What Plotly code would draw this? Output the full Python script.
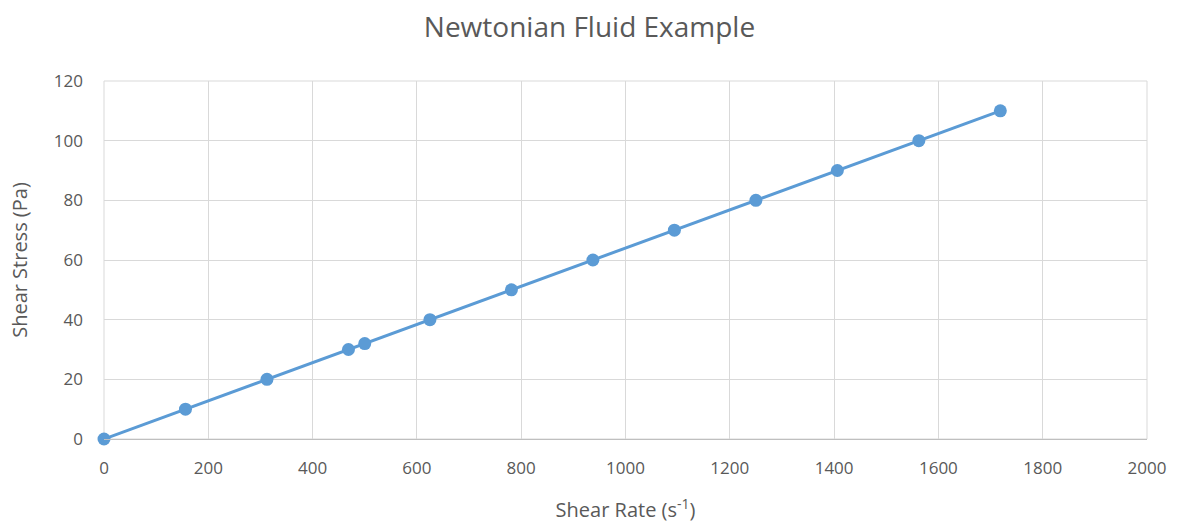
import plotly.graph_objects as go

shear_rate = [0, 156.25, 312.5, 468.75, 500, 625, 781.25, 937.5, 1093.75, 1250, 1406.25, 1562.5, 1718.75]
shear_stress = [0, 10, 20, 30, 32, 40, 50, 60, 70, 80, 90, 100, 110]

FONT = "Open Sans"
TXT = "#595959"

fig = go.Figure()
fig.add_trace(go.Scatter(
    x=shear_rate, y=shear_stress, mode="lines+markers",
    line=dict(color="#5B9BD5", width=3),
    marker=dict(color="#5B9BD5", size=13),
    cliponaxis=False,
    showlegend=False,
))

fig.update_layout(
    width=1179, height=523,
    margin=dict(l=104, r=32, t=81, b=84),
    paper_bgcolor="white", plot_bgcolor="white",
    font=dict(family=FONT, color=TXT),
    title=dict(text="Newtonian Fluid Example", x=0.5, xanchor="center",
               y=1 - 27 / 523, yanchor="middle", font=dict(size=28, color=TXT, family=FONT)),
    xaxis=dict(range=[0, 2000], dtick=200, showgrid=True, gridcolor="#d9d9d9", gridwidth=1,
               zeroline=False, showline=True, linecolor="#bfbfbf", linewidth=1, mirror=False,
               automargin=False,
               ticks="", tickfont=dict(size=17, color=TXT), ticklabelstandoff=14,
               title=dict(text="Shear Rate (s<sup>-1</sup>)", font=dict(size=20, color=TXT), standoff=26)),
    yaxis=dict(range=[0, 120], dtick=20, showgrid=True, gridcolor="#d9d9d9", gridwidth=1,
               zeroline=False, showline=False, ticks="", tickfont=dict(size=17, color=TXT),
               automargin=False,
               ticklabelstandoff=20,
               title=dict(text="Shear Stress (Pa)", font=dict(size=20, color=TXT), standoff=20)),
)
fig.add_shape(type="rect", xref="paper", yref="paper", x0=0, x1=1, y0=0, y1=1,
              line=dict(color="#d9d9d9", width=1), layer="below")

fig.write_html("out.html")
